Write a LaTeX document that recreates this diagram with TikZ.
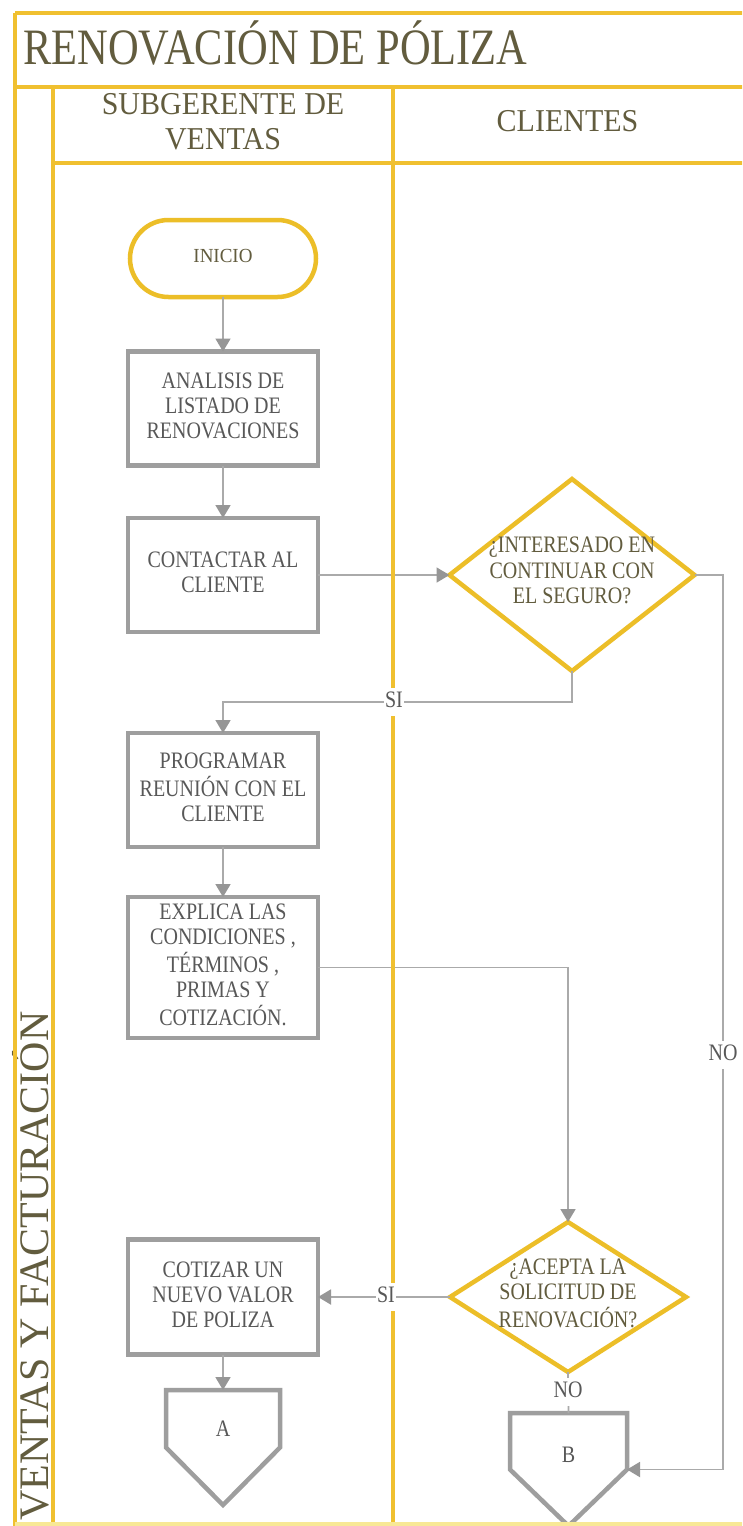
\documentclass[tikz,border=0pt]{standalone}
\usepackage{fontspec}
\setmainfont{Liberation Serif}
\usepackage{graphicx}
\usetikzlibrary{arrows.meta,shapes.geometric,shapes.misc,calc}

\definecolor{lanegold}{RGB}{240,192,48}
\definecolor{palegold}{RGB}{248,232,150}
\definecolor{shapegold}{RGB}{236,190,40}
\definecolor{boxgrey}{RGB}{158,158,158}
\definecolor{linegrey}{RGB}{170,170,170}
\definecolor{tipgrey}{RGB}{150,150,150}
\definecolor{olivetext}{RGB}{98,92,62}
\definecolor{textgrey}{RGB}{88,88,88}

% centred multi-line text, slightly stretched in height
\newcommand{\tallt}[2][1.18]{\scalebox{1}[#1]{\begin{tabular}{@{}c@{}}#2\end{tabular}}}

\begin{document}
\begin{tikzpicture}[x=1pt,y=1pt,
  lane/.style={draw=lanegold,line width=4pt},
  boxfont/.style={font=\fontsize{20}{21.2}\selectfont},
  procbox/.style={rectangle,draw=boxgrey,line width=4.5pt,minimum width=190pt,
    minimum height=114pt,inner sep=2pt,outer sep=0pt,text=textgrey,boxfont},
  startbox/.style={rounded rectangle,draw=shapegold,line width=4.5pt,minimum width=190pt,
    minimum height=77pt,inner sep=2pt,outer sep=0pt,text=olivetext,
    font=\fontsize{19}{21}\selectfont},
  decision/.style={diamond,draw=shapegold,line width=4.5pt,inner sep=0pt,outer sep=0pt},
  dtext/.style={inner sep=0pt,text=olivetext,boxfont},
  offpage/.style={rectangle,draw=none,inner sep=0pt,outer sep=0pt},
  offline/.style={draw=boxgrey,line width=4.5pt,line join=miter},
  ctext/.style={inner sep=0pt,text=textgrey,boxfont},
  flow/.style={draw=linegrey,line width=1.8pt,-{Triangle[width=15pt,length=13pt,color=tipgrey]}},
  plainflow/.style={draw=linegrey,line width=1.8pt},
  flowlabel/.style={fill=white,inner sep=1.5pt,text=textgrey,boxfont},
  headtext/.style={inner sep=0pt,text=olivetext,font=\fontsize{30}{33}\selectfont},
]
\useasboundingbox (0,0) rectangle (742,-1526);
\fill[white] (0,0) rectangle (742,-1526);
\clip (0,0) rectangle (742,-1526);

% title and lane headers
\node[inner sep=0pt,anchor=base west,text=olivetext,font=\fontsize{42.5}{48}\selectfont]
  (title) at (23,-64) {\scalebox{1}[1.2]{RENOVACIÓN DE PÓLIZA}};
\node[headtext] (hsub) at (223,-125) {\tallt[1.06]{SUBGERENTE DE\\VENTAS}};
\node[headtext] (hcli) at (567.5,-125) {\tallt[1.06]{CLIENTES}};
\node[inner sep=0pt,anchor=base west,rotate=90,text=olivetext,font=\fontsize{42}{48}\selectfont]
  (pool) at (48.5,-1521) {VENTAS Y FACTURACIÓN};

% flow shapes
\node[startbox] (start) at (223,-258.5) {\tallt[1.05]{INICIO}};
\node[procbox] (anal) at (223,-408.5) {\tallt{ANALISIS DE\\LISTADO DE\\RENOVACIONES}};
\node[procbox] (cont) at (223,-575) {\tallt{CONTACTAR AL\\CLIENTE}};
\node[decision,minimum width=245pt,minimum height=192pt] (d1) at (572,-575) {};
\node[dtext] (d1t) at (572,-573) {\tallt{¿INTERESADO EN\\CONTINUAR CON\\EL SEGURO?}};
\node[procbox] (prog) at (223,-790) {\tallt{PROGRAMAR\\REUNIÓN CON EL\\CLIENTE}};
\node[procbox,minimum height=141pt] (expl) at (223,-967.5)
  {\tallt{EXPLICA LAS\\CONDICIONES ,\\TÉRMINOS ,\\PRIMAS Y\\COTIZACIÓN.}};
\node[decision,minimum width=236pt,minimum height=150pt] (d2) at (568,-1297) {};
\node[dtext] (d2t) at (568,-1296) {\tallt{¿ACEPTA LA\\SOLICITUD DE\\RENOVACIÓN?}};
\node[procbox,minimum height=115pt] (cot) at (223,-1297) {\tallt{COTIZAR UN\\NUEVO VALOR\\DE POLIZA}};

% off-page connectors
\node[offpage,minimum width=114pt,minimum height=115pt] (A) at (223,-1447.5) {};
\draw[offline] (A.north west) -- (A.north east) -- (A.east) -- (A.south) -- (A.west) -- cycle;
\node[ctext] (At) at (223,-1431) {\tallt{A}};
\node[offpage,minimum width=117pt,minimum height=113pt] (B) at (568.5,-1469.5) {};
\draw[offline] (B.north west) -- (B.north east) -- (B.east) -- (B.south) -- (B.west) -- cycle;
\node[ctext] (Bt) at (568.5,-1457) {\tallt{B}};

% connectors
\coordinate (j1) at (223,-702);
\coordinate (noR) at (723,-575);
\draw[flow] (start) -- (anal);
\draw[flow] (anal) -- (cont);
\draw[flow] (cont.east) -- (d1.west);
\draw[flow] (d1.south) |- (j1) -- (prog.north);
\draw[flow] (prog) -- (expl);
\draw[flow] (expl.east) -| (d2.north);
\draw[flow] (d2.west) -- (cot.east);
\draw[flow] (cot) -- (A.north);
\draw[plainflow] (d2.south) -- (B.north);
\draw[flow] (d1.east) -- (noR) |- (B.east);

% pool and lane borders
\draw[lane] (15,-13) -- (760,-13);
\draw[lane] (15,-13) -- (15,-1540);
\draw[lane] (15,-87) -- (760,-87);
\draw[lane] (53,-163) -- (760,-163);
\draw[lane] (53,-87) -- (53,-1540);
\draw[lane] (393,-87) -- (393,-1540);
\draw[draw=palegold,line width=4pt] (15,-1524) -- (760,-1524);

% branch labels
\node[flowlabel] (si1) at (394,-702) {\tallt{SI}};
\node[flowlabel] (si2) at (386,-1297) {\tallt{SI}};
\node[flowlabel] (no1) at (568,-1392) {\tallt{NO}};
\node[flowlabel] (no2) at (723,-1055) {\tallt{NO}};
\end{tikzpicture}
\end{document}
